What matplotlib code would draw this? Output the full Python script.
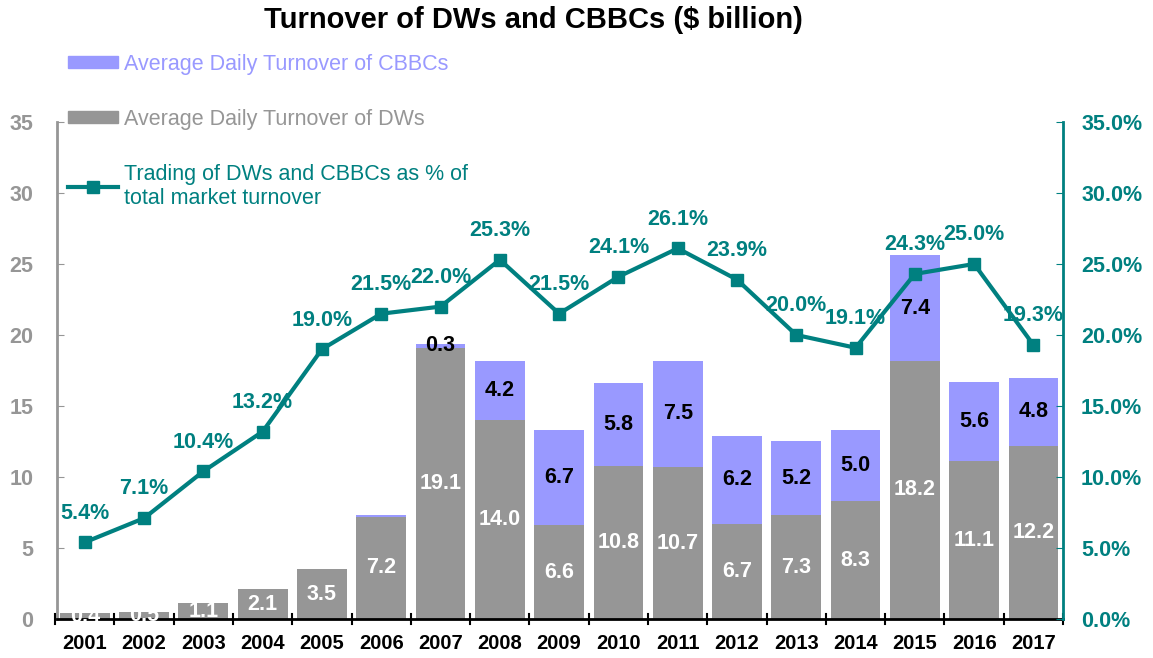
import matplotlib.pyplot as plt
import numpy as np
from matplotlib.patches import Patch
from matplotlib.lines import Line2D

plt.rcParams['font.family'] = ['Liberation Sans', 'DejaVu Sans']

# Datos
anios = ['2001', '2002', '2003', '2004', '2005', '2006', '2007', '2008', '2009',
         '2010', '2011', '2012', '2013', '2014', '2015', '2016', '2017']
dws = [0.4, 0.5, 1.1, 2.1, 3.5, 7.2, 19.1, 14.0, 6.6, 10.8, 10.7, 6.7, 7.3, 8.3, 18.2, 11.1, 12.2]
cbbcs = [0, 0, 0, 0, 0, 0.1, 0.3, 4.2, 6.7, 5.8, 7.5, 6.2, 5.2, 5.0, 7.4, 5.6, 4.8]
porcentaje = [5.4, 7.1, 10.4, 13.2, 19.0, 21.5, 22.0, 25.3, 21.5, 24.1, 26.1, 23.9, 20.0, 19.1, 24.3, 25.0, 19.3]

gris = '#969696'
lila = '#9999FF'
verde = '#008080'

fig = plt.figure(figsize=(11.53, 6.58), dpi=100)
ax = fig.add_axes([0.0494, 0.0593, 0.8726, 0.7553])
x = np.arange(len(anios))
ancho = 0.84

ax.bar(x, dws, width=ancho, color=gris, zorder=2)
ax.bar(x, cbbcs, width=ancho, bottom=dws, color=lila, zorder=2)

# etiquetas de las barras
for i in range(len(anios)):
    ax.text(x[i], dws[i] / 2, f'{dws[i]:.1f}', ha='center', va='center',
            color='white', fontsize=15.5, fontweight='bold', zorder=3)
    if cbbcs[i] >= 0.2:
        ax.text(x[i], dws[i] + cbbcs[i] / 2, f'{cbbcs[i]:.1f}', ha='center', va='center',
                color='black', fontsize=15.5, fontweight='bold', zorder=3)

ax.set_xlim(-0.47, 16.5)
ax.set_ylim(0, 35)
ax.set_yticks(range(0, 36, 5))
ax.set_xticks(x)
ax.set_xticklabels(anios, fontsize=14.5, fontweight='bold')
ax.tick_params(axis='x', length=0, pad=11)
for b in np.arange(-0.5, 17, 1):
    ax.plot([b, b], [-0.35, 0.35], color='black', lw=1.5, clip_on=False, zorder=4)
ax.tick_params(axis='y', direction='in', length=5, colors=gris, labelsize=15.5, pad=17)
for t in ax.get_yticklabels():
    t.set_fontweight('bold')
ax.spines['left'].set_color(gris)
ax.spines['left'].set_linewidth(2)
ax.spines['bottom'].set_color('black')
ax.spines['bottom'].set_linewidth(2)
ax.spines['top'].set_visible(False)
ax.spines['right'].set_visible(False)

# eje derecho
ax2 = ax.twinx()
ax2.plot(x, porcentaje, color=verde, lw=3, marker='s', markersize=9, zorder=5)
for i in range(len(anios)):
    ax2.annotate(f'{porcentaje[i]:.1f}%', (x[i], porcentaje[i]), xytext=(0, 21),
                 textcoords='offset points', ha='center', va='center',
                 color=verde, fontsize=15.5, fontweight='bold')
ax2.set_ylim(0, 35)
ax2.set_yticks(range(0, 36, 5))
ax2.set_yticklabels([f'{v:.1f}%' for v in range(0, 36, 5)])
ax2.tick_params(axis='y', direction='in', length=5, colors=verde, labelsize=15.5, pad=13)
for t in ax2.get_yticklabels():
    t.set_fontweight('bold')
ax2.spines['right'].set_color(verde)
ax2.spines['right'].set_linewidth(2)
ax2.spines['left'].set_visible(False)
ax2.spines['top'].set_visible(False)
ax2.spines['bottom'].set_visible(False)

fig.text(0.4625, 0.97, 'Turnover of DWs and CBBCs ($ billion)', fontsize=21,
         fontweight='bold', ha='center', va='center')

manejadores = [Patch(color=lila),
               Patch(color=gris),
               Line2D([], [], color=verde, lw=3, marker='s', markersize=9)]
textos = ['Average Daily Turnover of CBBCs',
          'Average Daily Turnover of DWs',
          'Trading of DWs and CBBCs as % of\ntotal market turnover']
leg = fig.legend(manejadores, textos, loc='upper left', bbox_to_anchor=(0.0425, 0.948),
                 frameon=False, fontsize=15.5, handlelength=2.3, handleheight=0.5,
                 labelspacing=1.58, handletextpad=0.3)
for txt, c in zip(leg.get_texts(), [lila, gris, verde]):
    txt.set_color(c)

plt.savefig('out.png', dpi=100)
